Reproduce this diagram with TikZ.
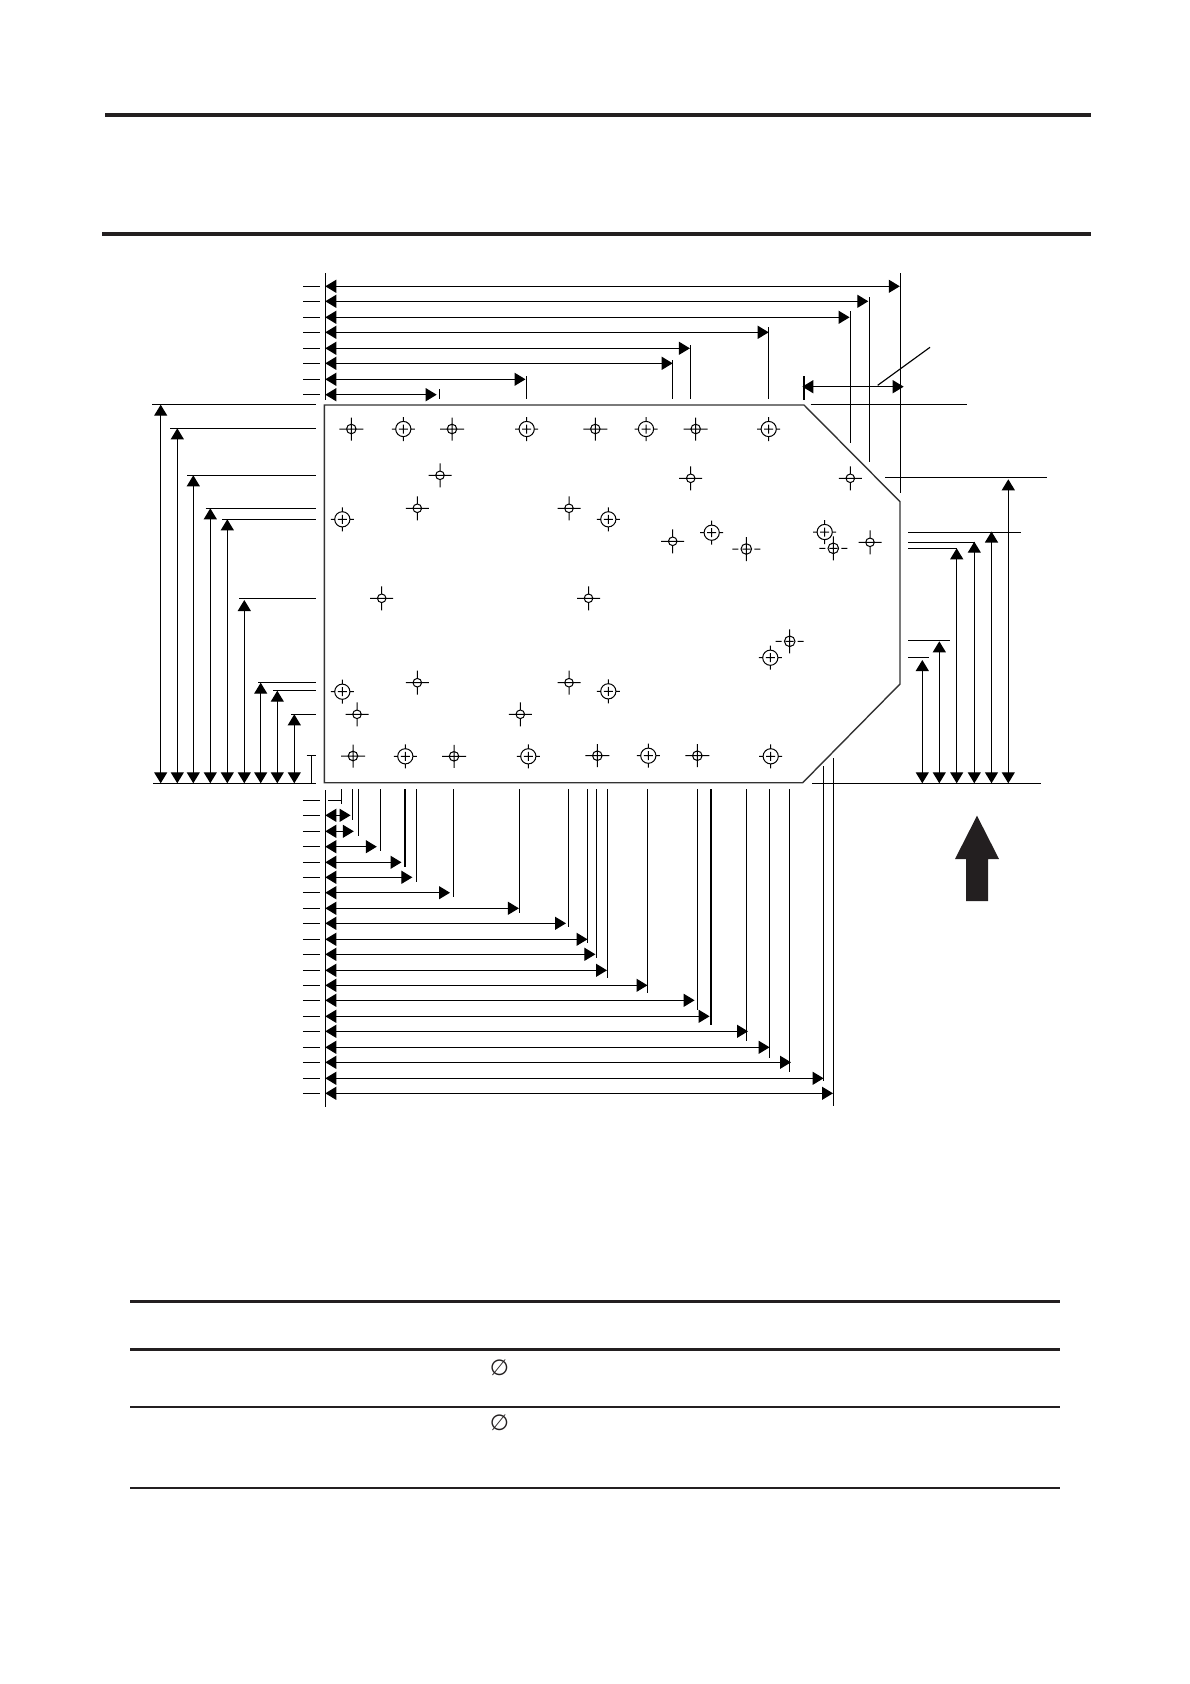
\documentclass[tikz,border=0pt]{standalone}
\usepackage{fontspec}
\newfontfamily\symfont{DejaVu Sans}
\usetikzlibrary{arrows.meta}
\definecolor{ink}{HTML}{231F20}
\tikzset{
  thin line/.style={line width=1.15pt,black},
  outline/.style={line width=1.4pt,black!80},
  rulethick/.style={line width=4pt,ink},
  dimboth/.style={thin line,{Triangle[length=11pt,width=13pt]}-{Triangle[length=11pt,width=13pt]}},
  holeline/.style={line width=1pt,black},
  diam/.style={inner sep=0pt,font=\symfont\fontsize{22}{22}\selectfont,text=ink}
}
% hole macros: x, y
\newcommand{\hlarge}[2]{\draw[holeline] (#1,#2) circle (7.6)
  (#1-11.5,#2) -- (#1-7.6,#2) (#1+7.6,#2) -- (#1+11.5,#2)
  (#1,#2-12) -- (#1,#2-7.6) (#1,#2+7.6) -- (#1,#2+12)
  (#1-4.5,#2) -- (#1+4.5,#2) (#1,#2-4.5) -- (#1,#2+4.5);}
\newcommand{\hmed}[2]{\draw[holeline] (#1,#2) circle (4.8)
  (#1-12,#2) -- (#1+12,#2) (#1,#2-11.5) -- (#1,#2+11.5);}
\newcommand{\hmedw}[2]{\draw[holeline] (#1,#2) circle (5.3)
  (#1-14,#2) -- (#1-8,#2) (#1+8,#2) -- (#1+14,#2)
  (#1-4,#2) -- (#1+4,#2) (#1,#2-12) -- (#1,#2+12);}
\newcommand{\hmin}[2]{\draw[holeline] (#1,#2) circle (4.3)
  (#1-11.5,#2) -- (#1+11.5,#2) (#1,#2-12) -- (#1,#2-4.3) (#1,#2+4.3) -- (#1,#2+12);}
\begin{document}
\begin{tikzpicture}[x=1pt,y=-1pt]
\useasboundingbox (0,0) rectangle (1190,1684);
% header and table rules
\draw[rulethick] (105,115) -- (1091,115);
\draw[rulethick] (102,234) -- (1091,234);
\draw[line width=3pt,ink] (130,1301.3) -- (1059.5,1301.3);
\draw[line width=3pt,ink] (130,1349.3) -- (1059.5,1349.3);
\draw[line width=2.2pt,ink] (130,1407) -- (1059.5,1407);
\draw[line width=2pt,ink] (130,1488) -- (1059.5,1488);
\node[diam] (d1) at (499.5,1368) {∅};
\node[diam] (d2) at (499.5,1423) {∅};
% board
\draw[outline,line join=miter] (324.3,405) -- (804,405) -- (900,501.7) -- (900,684) -- (802.7,782.7) -- (324.3,782.7) -- cycle;
% top dimensions
\draw[thin line] (325.3,273) -- (325.3,399.5);
\foreach \y in {286.3,301.3,317.3,332.3,348.3,363.3,379.3,394.7}
  \draw[thin line] (303,\y) -- (319.7,\y);
\foreach \y/\t/\lx/\ltop/\lbot in {
  286.3/899.8/900.3/273/493,
  301.3/868.3/869.3/297.3/461.7,
  317.3/849.6/850.3/311/442.7,
  332.3/768.7/768.3/327.3/399.3,
  348.3/689.9/690.3/345/399.3,
  363.3/672.7/672.3/360/399.3,
  379.3/525.5/526.7/376/399.3,
  394.7/436.7/439.3/389/399.3}{
  \draw[thin line] (\lx,\ltop) -- (\lx,\lbot);
  \draw[dimboth] (325.3,\y) -- (\t,\y);
}
% chamfer dimension
\draw[thin line] (804,376) -- (804,400);
\draw[dimboth] (802.3,386.7) -- (903.7,386.7);
\draw[thin line] (877.7,385.3) -- (930,347.3);
\draw[thin line] (810.7,404.3) -- (966.7,404.3);
% left dimensions
\draw[thin line] (152.3,404.7) -- (315.7,404.7);
\draw[thin line] (170,428.3) -- (315.7,428.3);
\draw[thin line] (187.3,475.3) -- (315.7,475.3);
\draw[thin line] (205.7,508.3) -- (315.7,508.3);
\draw[thin line] (222.3,519.3) -- (315.7,519.3);
\draw[thin line] (239,598.3) -- (315.7,598.3);
\draw[thin line] (258.3,682.7) -- (315.7,682.7);
\draw[thin line] (273.3,690.7) -- (315.7,690.7);
\draw[thin line] (291,714.3) -- (315.7,714.3);
\draw[thin line] (153.3,783.3) -- (315.7,783.3);
\draw[thin line] (311.3,755.3) -- (311.3,783.3);
\draw[thin line] (306.7,755.3) -- (315.7,755.3);
\foreach \x/\y in {160.7/404.7,177.3/428.3,193.3/475.3,210.3/508.3,227.3/519.3,244.3/600,260.7/682.7,277.3/690.7,294.3/714.3}
  \draw[dimboth] (\x,783.3) -- (\x,\y);
% right dimensions
\draw[thin line] (812,783.3) -- (1041,783.3);
\draw[thin line] (885,477.3) -- (1046.7,477.3);
\draw[thin line] (908.3,532.3) -- (1020.7,532.3);
\draw[thin line] (908.3,542.3) -- (975,542.3);
\draw[thin line] (908.3,548.3) -- (957,548.3);
\draw[thin line] (908.3,640.3) -- (950,640.3);
\draw[thin line] (908.3,657.3) -- (929,657.3);
\foreach \x/\y in {922.3/660,939.3/641.3,956.7/548.3,974.3/541.7,991.5/531.5,1008.3/479.3}
  \draw[dimboth] (\x,783.3) -- (\x,\y);
% bottom dimensions
\draw[thin line] (325.3,790) -- (325.3,1106.7);
\draw[thin line] (327.9,800.4) -- (341.8,800.4);
\draw[thin line] (341.8,789) -- (341.8,804);
\foreach \y in {800.4,815.3,831.3,846.7,862.3,877.3,892.7,908.3,923.3,939.3,954.3,970.3,985.3,1000.3,1016.3,1031.3,1047.3,1062.3,1078.3,1093.3}
  \draw[thin line] (302.9,\y) -- (320,\y);
\foreach \y/\t/\lx/\lbot in {
  815.3/350.6/352.9/820,
  831.3/353.8/358.2/835.7,
  846.7/376.8/380.7/851.3,
  862.3/401.5/405/867.3,
  877.3/412.4/416.4/881.7,
  892.7/450/453.9/896.7,
  908.3/518.9/519.6/912.7,
  923.3/566/568.2/927.3,
  939.3/587.5/587.9/942.7,
  954.3/595.4/596.8/958.3,
  970.3/607/607.5/977.7,
  985.3/647.5/647.5/993.3,
  1000.3/694.6/697.5/1010,
  1016.3/709.6/711/1024.7,
  1031.3/748/746.4/1040.7,
  1047.3/769.6/769.6/1058.3,
  1062.3/791/789.3/1072.3,
  1078.3/823.6/823.6/1080}{
  \draw[thin line] (\lx,789) -- (\lx,\lbot);
  \draw[dimboth] (325.3,\y) -- (\t,\y);
}
\draw[thin line] (823.7,766) -- (823.7,1081);
\draw[thin line] (833.3,758.3) -- (833.3,1105.7);
\draw[dimboth] (325.3,1093.3) -- (833,1093.3);
% large arrow
\fill[ink] (977,815.7) -- (999,859) -- (988,859) -- (988,901) -- (966,901) -- (966,859) -- (955,859) -- cycle;
% holes
\hmed{351.3}{429}\hlarge{403.3}{429}\hmed{452}{429}\hlarge{526.7}{429}\hmed{595.3}{429}\hlarge{646}{429}\hmed{695.7}{429}\hlarge{768.7}{429}
\hmin{440}{475.3}\hmin{690.7}{478.3}\hmin{850.3}{478.3}
\hmin{417.3}{508.3}\hmin{569}{508.3}\hlarge{342.3}{519.3}\hlarge{608.3}{519.3}
\hmin{672.7}{541.3}\hlarge{711.7}{532.7}\hmedw{746.3}{549}\hlarge{824.7}{532}\hmedw{833.3}{548.3}\hmin{870}{542.3}
\hmin{381.7}{598.3}\hmin{588.5}{598.3}
\hmedw{789.7}{641.3}\hlarge{770.3}{657.7}
\hlarge{342.3}{691.7}\hmin{417.3}{682.7}\hmin{357}{714.3}\hmin{520.3}{714.3}\hmin{569}{682.7}\hlarge{608.3}{691.3}
\hmed{353}{756}\hlarge{405.3}{756.3}\hmed{454}{756.3}\hlarge{528.3}{756.3}\hmed{597.3}{755.7}\hlarge{648.3}{755.7}\hmed{697.3}{755.7}\hlarge{770.7}{756.3}
\end{tikzpicture}
\end{document}
